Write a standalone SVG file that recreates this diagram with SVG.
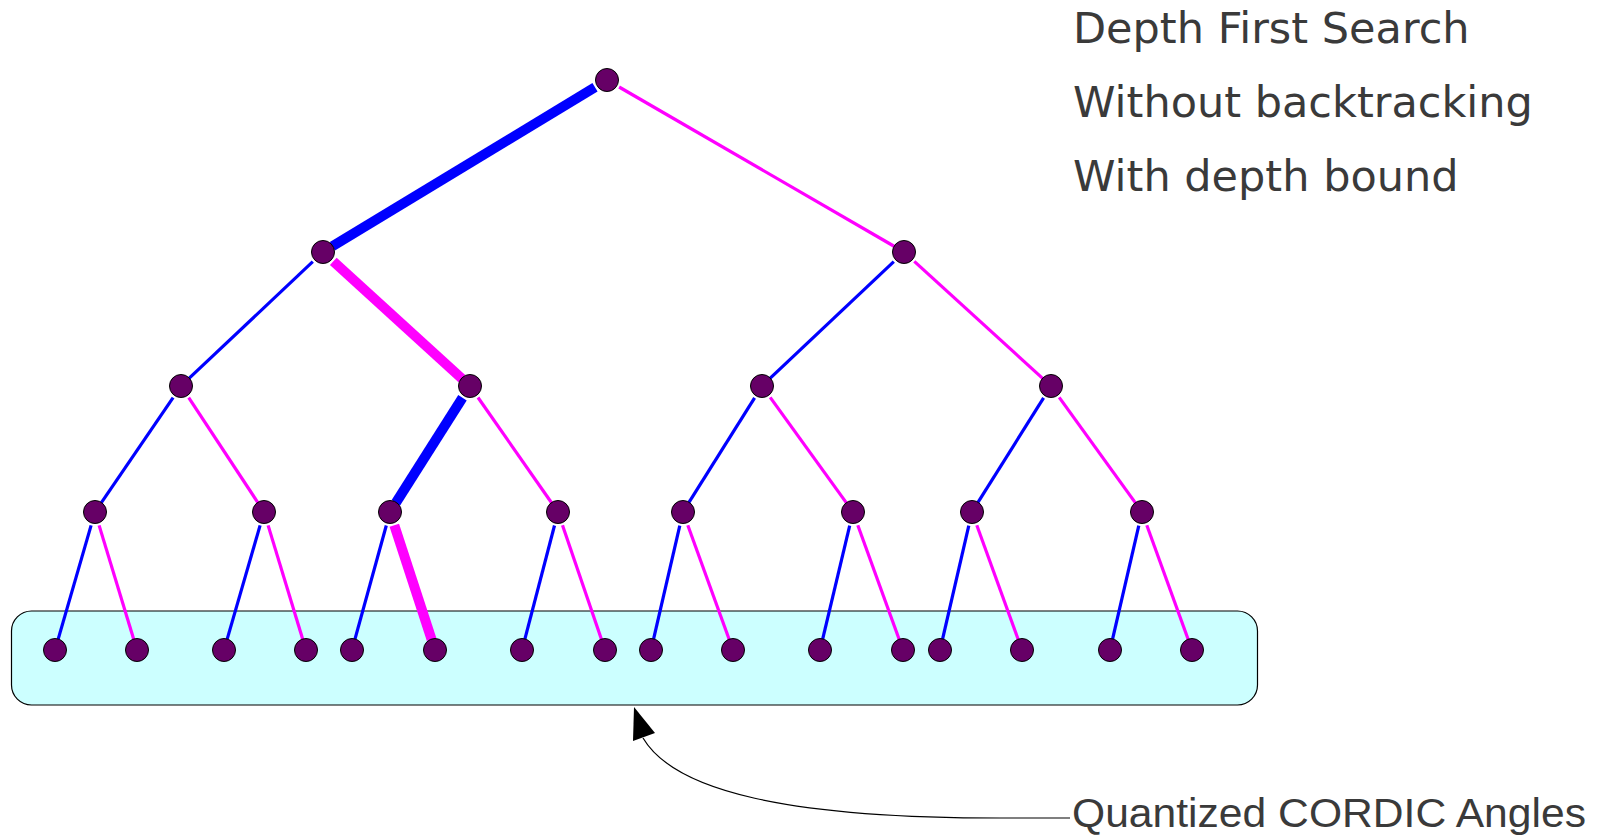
<svg xmlns="http://www.w3.org/2000/svg" width="1600" height="837" viewBox="0 0 1600 837">
<style>
.b{stroke:#0000ff;stroke-width:3.2;fill:none}
.m{stroke:#ff00ff;stroke-width:3.2;fill:none}
.t{stroke-width:10}
.n{fill:#660066;stroke:#000;stroke-width:1}
.lbl{font-family:"DejaVu Sans",sans-serif;font-size:43px;fill:#3a3a3a}
.q{font-family:"Liberation Sans",Arial,sans-serif;font-size:41px;fill:#3a3a3a}
</style>
<rect width="1600" height="837" fill="#fff"/>
<g id="leafbox">
<rect x="11.5" y="611" width="1246" height="94" rx="20" ry="20" fill="#ccffff" stroke="#000" stroke-width="1.2"/>
</g>
<g id="connectors">
<line class="b t" x1="595" y1="87.3" x2="332.4" y2="246.3"/>
<line class="m" x1="619.1" y1="87" x2="894.5" y2="246.5"/>
<line class="b" x1="312.8" y1="261.6" x2="189" y2="378.4"/>
<line class="m t" x1="333.3" y1="261.4" x2="461.9" y2="378.6"/>
<line class="b" x1="893.8" y1="261.6" x2="770" y2="378.4"/>
<line class="m" x1="914.3" y1="261.4" x2="1042.9" y2="378.6"/>
<line class="b" x1="173.1" y1="397.6" x2="101.2" y2="502.9"/>
<line class="m" x1="188.7" y1="397.7" x2="258" y2="502.8"/>
<line class="b t" x1="462.5" y1="397.8" x2="395.9" y2="502.7"/>
<line class="m" x1="478" y1="397.5" x2="551.7" y2="503"/>
<line class="b" x1="754.6" y1="397.9" x2="688.8" y2="502.7"/>
<line class="m" x1="770.2" y1="397.4" x2="846.6" y2="503.1"/>
<line class="b" x1="1043.6" y1="397.9" x2="977.8" y2="502.7"/>
<line class="m" x1="1059.2" y1="397.4" x2="1135.6" y2="503.1"/>
<line class="b" x1="91.1" y1="525.4" x2="58.1" y2="639.4"/>
<line class="m" x1="99.1" y1="525.4" x2="133.8" y2="639.5"/>
<line class="b" x1="260.1" y1="525.4" x2="227.1" y2="639.4"/>
<line class="m" x1="268.1" y1="525.4" x2="302.8" y2="639.5"/>
<line class="b" x1="386.3" y1="525.5" x2="354.9" y2="639.4"/>
<line class="m t" x1="394.3" y1="525.3" x2="431.6" y2="639.5"/>
<line class="b" x1="554.5" y1="525.5" x2="524.8" y2="639.4"/>
<line class="m" x1="562.5" y1="525.3" x2="601.5" y2="639.6"/>
<line class="b" x1="679.8" y1="525.6" x2="653.5" y2="639.3"/>
<line class="m" x1="687.8" y1="525.2" x2="729.3" y2="639.7"/>
<line class="b" x1="849.7" y1="525.6" x2="822.6" y2="639.3"/>
<line class="m" x1="857.8" y1="525.2" x2="899.3" y2="639.7"/>
<line class="b" x1="968.8" y1="525.6" x2="942.5" y2="639.3"/>
<line class="m" x1="976.8" y1="525.2" x2="1018.3" y2="639.7"/>
<line class="b" x1="1138.8" y1="525.6" x2="1112.5" y2="639.3"/>
<line class="m" x1="1146.8" y1="525.2" x2="1188.3" y2="639.7"/>
<path d="M1070,818 L1000,818 C790,818 675,792 643,738" fill="none" stroke="#000" stroke-width="1.2"/>
<polygon points="634,707 655,733 633,741" fill="#000"/>
</g>
<g id="n0"><circle class="n" cx="607" cy="80" r="11.5"/></g>
<g id="n1"><circle class="n" cx="323" cy="252" r="11.5"/></g>
<g id="n2"><circle class="n" cx="904" cy="252" r="11.5"/></g>
<g id="n3"><circle class="n" cx="181" cy="386" r="11.5"/></g>
<g id="n4"><circle class="n" cx="470" cy="386" r="11.5"/></g>
<g id="n5"><circle class="n" cx="762" cy="386" r="11.5"/></g>
<g id="n6"><circle class="n" cx="1051" cy="386" r="11.5"/></g>
<g id="n7"><circle class="n" cx="95" cy="512" r="11.5"/></g>
<g id="n8"><circle class="n" cx="264" cy="512" r="11.5"/></g>
<g id="n9"><circle class="n" cx="390" cy="512" r="11.5"/></g>
<g id="n10"><circle class="n" cx="558" cy="512" r="11.5"/></g>
<g id="n11"><circle class="n" cx="683" cy="512" r="11.5"/></g>
<g id="n12"><circle class="n" cx="853" cy="512" r="11.5"/></g>
<g id="n13"><circle class="n" cx="972" cy="512" r="11.5"/></g>
<g id="n14"><circle class="n" cx="1142" cy="512" r="11.5"/></g>
<g id="leaf1"><circle class="n" cx="55" cy="650" r="11.5"/></g>
<g id="leaf2"><circle class="n" cx="137" cy="650" r="11.5"/></g>
<g id="leaf3"><circle class="n" cx="224" cy="650" r="11.5"/></g>
<g id="leaf4"><circle class="n" cx="306" cy="650" r="11.5"/></g>
<g id="leaf5"><circle class="n" cx="352" cy="650" r="11.5"/></g>
<g id="leaf6"><circle class="n" cx="435" cy="650" r="11.5"/></g>
<g id="leaf7"><circle class="n" cx="522" cy="650" r="11.5"/></g>
<g id="leaf8"><circle class="n" cx="605" cy="650" r="11.5"/></g>
<g id="leaf9"><circle class="n" cx="651" cy="650" r="11.5"/></g>
<g id="leaf10"><circle class="n" cx="733" cy="650" r="11.5"/></g>
<g id="leaf11"><circle class="n" cx="820" cy="650" r="11.5"/></g>
<g id="leaf12"><circle class="n" cx="903" cy="650" r="11.5"/></g>
<g id="leaf13"><circle class="n" cx="940" cy="650" r="11.5"/></g>
<g id="leaf14"><circle class="n" cx="1022" cy="650" r="11.5"/></g>
<g id="leaf15"><circle class="n" cx="1110" cy="650" r="11.5"/></g>
<g id="leaf16"><circle class="n" cx="1192" cy="650" r="11.5"/></g>
<g id="title">
<text class="lbl" x="1073" y="43">Depth First Search</text>
<text class="lbl" x="1073" y="117">Without backtracking</text>
<text class="lbl" x="1073" y="191">With depth bound</text>
</g>
<g id="caption">
<text class="q" x="1072" y="827" textLength="514" lengthAdjust="spacingAndGlyphs">Quantized CORDIC Angles</text>
</g>
</svg>
